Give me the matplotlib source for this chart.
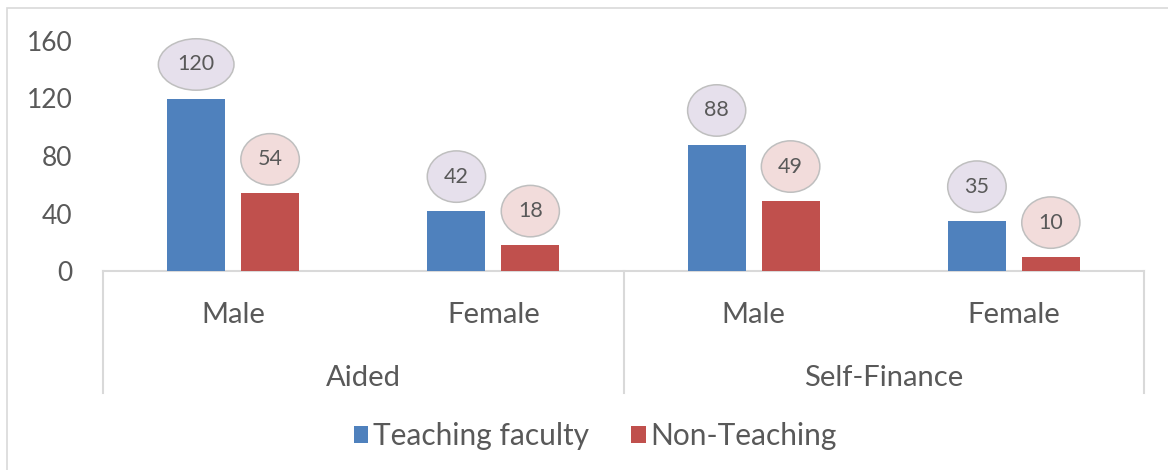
import matplotlib
matplotlib.use("Agg")
import matplotlib.pyplot as plt
from matplotlib.patches import Rectangle
import numpy as np

plt.rcParams['font.family'] = ['Lato', 'DejaVu Sans']

sub_labels = ["Male", "Female", "Male", "Female"]
group_labels = ["Aided", "Self-Finance"]
series_names = ["Teaching faculty", "Non-Teaching"]
teaching = [120, 42, 88, 35]
non_teaching = [54, 18, 49, 10]
yticks = [0, 40, 80, 120, 160]

TXT = "#595959"
GRID = "#D9D9D9"
BLUE = "#4F81BD"
RED = "#C0504D"

W, H = 1168, 470
fig = plt.figure(figsize=(W / 100, H / 100), dpi=100)
ax_l, ax_r, ax_t, ax_b = 103, 1144, 41, 271
ax = fig.add_axes([ax_l / W, 1 - ax_b / H, (ax_r - ax_l) / W, (ax_b - ax_t) / H])

# outer border (left/top visible)
fig.add_artist(Rectangle((7 / W, -0.2), 1.5, 1.2 - 8 / H, transform=fig.transFigure,
                         fill=False, edgecolor=GRID, lw=1.2))

x = np.arange(len(sub_labels))
bw = 0.223
off = 0.142
b1 = ax.bar(x - off, teaching, bw, color=BLUE, label=series_names[0], zorder=2)
b2 = ax.bar(x + off, non_teaching, bw, color=RED, label=series_names[1], zorder=2)

ax.set_xlim(-0.5, len(sub_labels) - 0.5)
ax.set_ylim(0, 160)
ax.set_yticks(yticks)
ax.tick_params(axis='y', length=0, pad=22, labelsize=19, labelcolor=TXT)
ax.set_xticks([])
for s in ax.spines.values():
    s.set_visible(False)

for bars, vals, fc in [(b1, teaching, "#E6E0EC"), (b2, non_teaching, "#F2DCDB")]:
    for rect, v in zip(bars, vals):
        ax.annotate(str(v), (rect.get_x() + rect.get_width() / 2, v),
                    xytext=(0, 24.5), textcoords='offset points',
                    ha='center', va='center', fontsize=15.5, color=TXT,
                    bbox=dict(boxstyle='ellipse,pad=0.38', fc=fc, ec="#BFBFBF", lw=1.1),
                    zorder=3)

tr = ax.get_xaxis_transform()
ax.plot([-0.5, 3.5], [0, 0], transform=tr, color=GRID, lw=1.5, clip_on=False, zorder=1)
for xv in [-0.5, 1.5, 3.5]:
    ax.plot([xv, xv], [0, -0.530], transform=tr, color=GRID, lw=1.5, clip_on=False)

for xi, lab in zip(x, sub_labels):
    ax.text(xi, -0.19, lab, transform=tr, ha='center', va='center', fontsize=21, color=TXT)
for gi, lab in enumerate(group_labels):
    ax.text(gi * 2 + 0.5, -0.465, lab, transform=tr, ha='center', va='center', fontsize=21, color=TXT)

fig.legend(handles=[b1, b2], labels=series_names, loc='center',
           bbox_to_anchor=(595 / W, 1 - 436 / H), ncol=2, frameon=False,
           fontsize=21.5, labelcolor=TXT, handlelength=0.5, handleheight=0.5,
           handletextpad=0.15, columnspacing=1.4)

fig.savefig("out.png", dpi=100)
